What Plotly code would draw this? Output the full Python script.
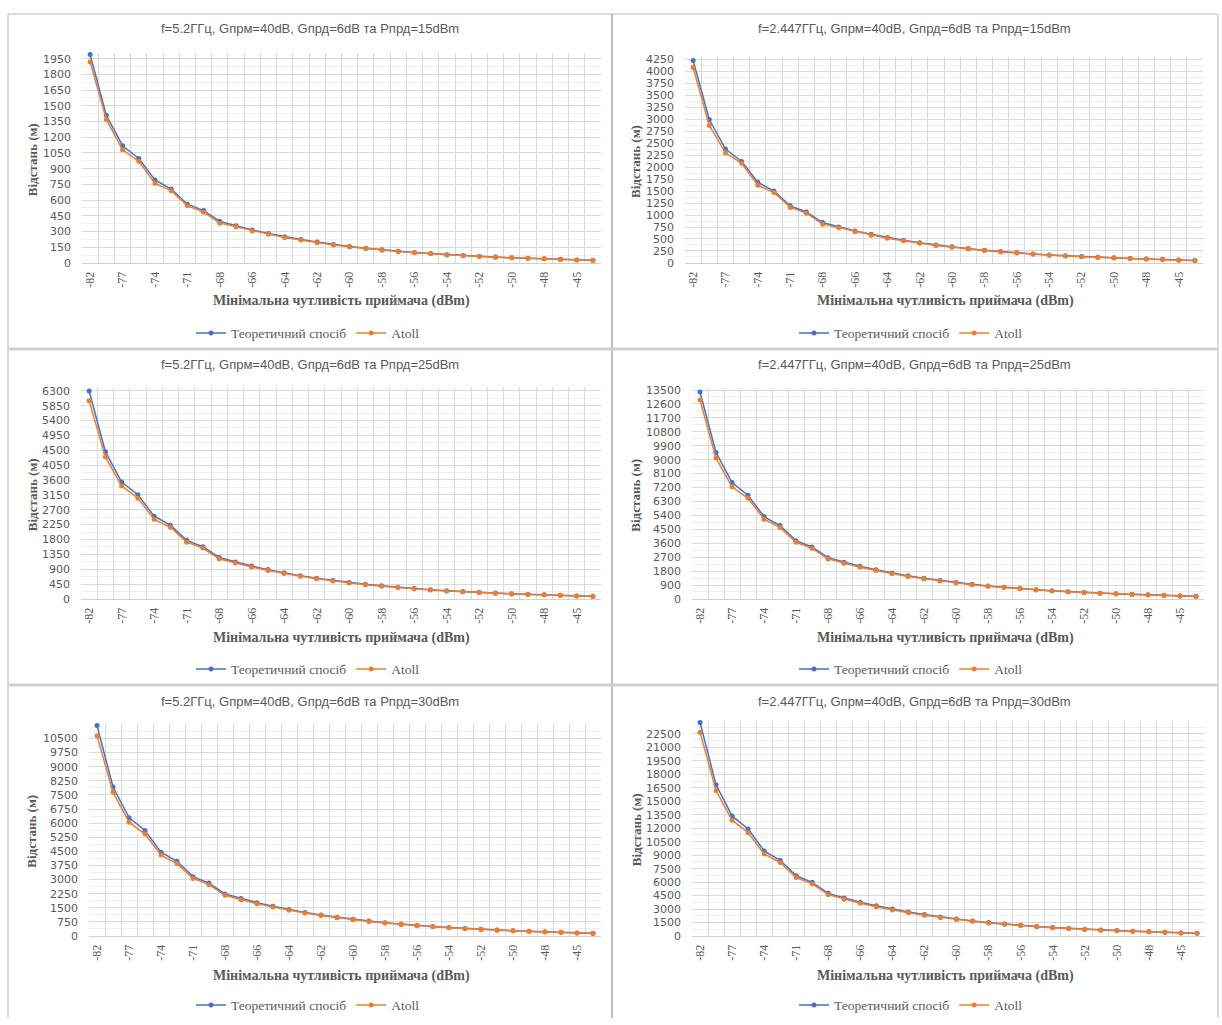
import plotly.graph_objects as go

# ---------------- data ----------------
SENS = [-82, -79, -77, -76, -74, -73, -71, -70, -68, -67, -66, -65, -64, -63, -62, -61,
        -60, -59, -58, -57, -56, -55, -54, -53, -52, -51, -50, -49, -48, -47, -45, -44]

TITLES = [
    "f=5.2ГГц, Gпрм=40dB, Gпрд=6dB та Pпрд=15dBm",
    "f=2.447ГГц, Gпрм=40dB, Gпрд=6dB та Pпрд=15dBm",
    "f=5.2ГГц, Gпрм=40dB, Gпрд=6dB та Pпрд=25dBm",
    "f=2.447ГГц, Gпрм=40dB, Gпрд=6dB та Pпрд=25dBm",
    "f=5.2ГГц, Gпрм=40dB, Gпрд=6dB та Pпрд=30dBm",
    "f=2.447ГГц, Gпрм=40dB, Gпрд=6dB та Pпрд=30dBm",
]
SERIES_NAMES = ["Теоретичний спосіб", "Atoll"]
X_TITLE = "Мінімальна чутливість приймача (dBm)"
Y_TITLE = "Відстань (м)"

theor_52_15 = [1990, 1409, 1119, 997, 792, 706, 561, 500, 397, 354, 315, 281, 251, 223, 199, 177,
               158, 141, 126, 112, 100, 89, 79, 71, 63, 56, 50, 45, 40, 35, 28, 25]
atoll_52_15 = [1920, 1370, 1080, 970, 760, 690, 545, 485, 380, 345, 305, 275, 243, 218, 193, 172,
               154, 137, 122, 109, 97, 87, 77, 69, 61, 55, 49, 44, 39, 34, 27, 24]
theor_24_15 = [4229, 2994, 2378, 2119, 1683, 1500, 1192, 1063, 844, 752, 669, 597, 532, 474, 423, 377,
               336, 299, 267, 238, 212, 189, 168, 150, 134, 119, 106, 95, 84, 75, 60, 53]
atoll_24_15 = [4080, 2870, 2300, 2080, 1620, 1470, 1160, 1040, 810, 735, 650, 580, 515, 462, 410, 366,
               326, 290, 259, 231, 206, 183, 163, 146, 130, 116, 103, 92, 82, 73, 58, 52]
theor_52_25 = [6293, 4456, 3539, 3153, 2505, 2232, 1774, 1581, 1256, 1119, 997, 888, 792, 706, 629, 561,
               500, 446, 397, 354, 315, 281, 251, 223, 199, 177, 158, 141, 126, 112, 89, 79]
atoll_52_25 = [6000, 4300, 3420, 3050, 2410, 2170, 1720, 1540, 1215, 1085, 965, 860, 768, 685, 610, 545,
               486, 433, 386, 344, 306, 273, 244, 217, 194, 172, 154, 137, 122, 109, 87, 77]
theor_24_25 = [13373, 9468, 7520, 6701, 5322, 4743, 3769, 3361, 2669, 2378, 2116, 1888, 1682, 1499, 1338, 1192,
               1063, 946, 844, 753, 670, 598, 531, 474, 424, 376, 335, 300, 266, 237, 190, 168]
atoll_24_25 = [12850, 9100, 7250, 6500, 5150, 4620, 3660, 3270, 2590, 2310, 2055, 1835, 1635, 1458, 1300, 1160,
               1034, 920, 821, 733, 652, 582, 517, 461, 413, 366, 326, 292, 259, 231, 185, 164]
theor_52_30 = [11190, 7923, 6293, 5607, 4454, 3970, 3155, 2812, 2233, 1990, 1773, 1580, 1409, 1254, 1119, 997,
               888, 792, 706, 629, 561, 500, 446, 397, 354, 315, 281, 250, 223, 199, 158, 141]
atoll_52_30 = [10650, 7650, 6050, 5420, 4300, 3850, 3060, 2730, 2165, 1930, 1720, 1535, 1368, 1218, 1087, 968,
               862, 769, 686, 611, 545, 486, 433, 386, 344, 306, 273, 243, 217, 193, 153, 137]
theor_24_30 = [23781, 16837, 13373, 11916, 9464, 8435, 6703, 5978, 4746, 4229, 3762, 3357, 2992, 2666, 2379, 2120,
               1889, 1681, 1501, 1338, 1192, 1063, 945, 844, 754, 669, 596, 534, 472, 422, 337, 298]
atoll_24_30 = [22700, 16200, 12900, 11500, 9150, 8180, 6500, 5800, 4600, 4100, 3650, 3260, 2905, 2590, 2310, 2058,
               1834, 1632, 1457, 1299, 1157, 1032, 918, 819, 732, 650, 579, 518, 458, 410, 327, 289]

Y_DTICK = [150, 250, 450, 900, 750, 1500]
Y_MAX_TICK = [1950, 4250, 6300, 13500, 10500, 22500]
Y_RANGE_MAX = [2000, 4300, 6400, 13600, 11300, 24000]

PANELS_DATA = [
    (theor_52_15, atoll_52_15), (theor_24_15, atoll_24_15),
    (theor_52_25, atoll_52_25), (theor_24_25, atoll_24_25),
    (theor_52_30, atoll_52_30), (theor_24_30, atoll_24_30),
]

# ---------------- layout geometry (pixels) ----------------
W, H = 1222, 1025
PLOT_X = [(82, 601), (685, 1203), (81, 601), (692, 1204), (89, 601), (692, 1205)]
PLOT_Y = [(49, 261), (52.6, 261), (387, 601), (388, 601), (727, 942), (724, 942)]
TITLE_Y = [24, 24, 364, 364, 705, 705]
TITLE_X = [310, 914, 310, 914, 310, 914]
XT_Y = [300, 300, 641, 641, 983, 983]
XT_X = [341, 945, 341, 945, 341, 945]
LEG_Y = [332, 332, 672, 672, 1012, 1012]
LEG_X = [308, 911, 308, 911, 308, 911]
YT_X = [32, 636, 32, 636, 32, 636]

BLUE = "#4472C4"
ORANGE = "#ED7D31"
TXT = "#595959"
SANS = "Liberation Sans, Arial, sans-serif"
TICKSANS = "DejaVu Sans, Verdana, sans-serif"
SERIF = "Liberation Serif, Times New Roman, serif"


def px(x):
    return x / W


def py(y):
    return 1 - y / H


fig = go.Figure()
layout = dict(
    width=W, height=H,
    margin=dict(l=0, r=0, t=0, b=0),
    paper_bgcolor="white", plot_bgcolor="white",
    showlegend=True,
    annotations=[], shapes=[],
)

cats = [str(s) for s in SENS]
tick_txt = [c if k % 2 == 0 else "" for k, c in enumerate(cats)]

for i in range(6):
    n = i + 1
    xa = "x" if n == 1 else f"x{n}"
    ya = "y" if n == 1 else f"y{n}"
    leg = "legend" if n == 1 else f"legend{n}"
    theor, atoll = PANELS_DATA[i]

    fig.add_trace(go.Scatter(
        x=cats, y=theor, name=SERIES_NAMES[0], mode="lines+markers",
        line=dict(color=BLUE, width=1.5), marker=dict(color=BLUE, size=5),
        xaxis=xa, yaxis=ya, legend=leg, cliponaxis=False,
    ))
    fig.add_trace(go.Scatter(
        x=cats, y=atoll, name=SERIES_NAMES[1], mode="lines+markers",
        line=dict(color=ORANGE, width=1.5), marker=dict(color=ORANGE, size=5),
        xaxis=xa, yaxis=ya, legend=leg, cliponaxis=False,
    ))

    x0, x1 = PLOT_X[i]
    y0, y1 = PLOT_Y[i]

    layout[f"xaxis{n if n > 1 else ''}"] = dict(
        domain=[px(x0), px(x1)], anchor=ya, type="category",
        categoryorder="array", categoryarray=cats,
        range=[-0.5, len(cats) - 0.5],
        tickmode="array", tickvals=cats, ticktext=tick_txt,
        tickson="boundaries", ticks="",
        tickangle=-90, tickfont=dict(family=SERIF, size=12, color=TXT),
        showgrid=True, gridcolor="#d9d9d9", gridwidth=1,
        zeroline=False, showline=True, linecolor="#d0d0d0",
        ticklabelstandoff=3,
    )
    yt = list(range(0, Y_MAX_TICK[i] + 1, Y_DTICK[i]))
    yminor = [v + Y_DTICK[i] / 2 for v in yt]
    layout[f"yaxis{n if n > 1 else ''}"] = dict(
        domain=[py(y1), py(y0)], anchor=xa, range=[0, Y_RANGE_MAX[i]],
        tickmode="array", tickvals=yt, ticktext=[str(v) for v in yt],
        tickfont=dict(family=TICKSANS, size=11, color=TXT),
        showgrid=True, gridcolor="#d9d9d9", gridwidth=1,
        minor=dict(tickmode="array", tickvals=yminor, showgrid=True,
                   gridcolor="#efefef", gridwidth=1),
        zeroline=False, showline=False, ticks="",
        ticklabelstandoff=10,
    )

    layout[leg] = dict(
        orientation="h", x=px(LEG_X[i]), y=py(LEG_Y[i]),
        xanchor="center", yanchor="middle",
        font=dict(family=SERIF, size=13.5, color=TXT),
        bgcolor="rgba(0,0,0,0)", itemwidth=30, tracegroupgap=0,
    )

    layout["annotations"].append(dict(
        text=TITLES[i], x=px(TITLE_X[i]), y=py(TITLE_Y[i]), xref="paper", yref="paper",
        showarrow=False, xanchor="center", yanchor="middle",
        font=dict(family=SANS, size=13, color=TXT),
    ))
    layout["annotations"].append(dict(
        text="<b>" + X_TITLE + "</b>", x=px(XT_X[i]), y=py(XT_Y[i]), xref="paper", yref="paper",
        showarrow=False, xanchor="center", yanchor="middle",
        font=dict(family=SERIF, size=14, color=TXT),
    ))
    layout["annotations"].append(dict(
        text="<b>" + Y_TITLE + "</b>", x=px(YT_X[i]), y=py((y0 + y1) / 2 + 2), xref="paper", yref="paper",
        showarrow=False, xanchor="center", yanchor="middle", textangle=-90,
        font=dict(family=SERIF, size=13, color=TXT),
    ))

# panel borders / separators
sep = [
    dict(x0=8, x1=1218, y0=9, y1=9, c="#d0d0d0", w=1.5),
    dict(x0=8, x1=8, y0=9, y1=1025, c="#d0d0d0", w=1.5),
    dict(x0=1218, x1=1218, y0=9, y1=1025, c="#d0d0d0", w=1.5),
    dict(x0=612, x1=612, y0=9, y1=1025, c="#a8a8a8", w=1.5),
    dict(x0=8, x1=1218, y0=348, y1=348, c="#cfcfcf", w=3),
    dict(x0=8, x1=1218, y0=688, y1=688, c="#cfcfcf", w=3),
]
for s in sep:
    layout["shapes"].append(dict(
        type="line", xref="paper", yref="paper",
        x0=px(s["x0"]), x1=px(s["x1"]), y0=py(s["y0"]), y1=py(s["y1"]),
        line=dict(color=s["c"], width=s["w"]), layer="below",
    ))

fig.update_layout(**layout)
fig.write_html("out.html")
